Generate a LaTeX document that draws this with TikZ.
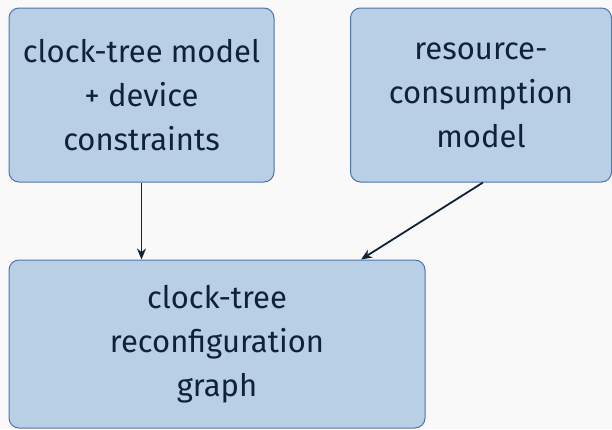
\documentclass[tikz,border=0pt]{standalone}
\usepackage{fontspec}
\setmainfont{Fira Sans}
\usetikzlibrary{arrows.meta}
\definecolor{bgc}{HTML}{F9F9F9}
\definecolor{boxfill}{HTML}{B8CFE6}
\definecolor{boxline}{HTML}{4F74A8}
\definecolor{txt}{HTML}{0F2238}
\tikzset{
  box/.style={draw=boxline, fill=boxfill, line width=1pt, rounded corners=10pt,
    align=center, text=txt, inner sep=0pt,
    font=\fontsize{31}{44}\selectfont},
  conn/.style={draw=txt, line width=1.8pt, -{Stealth[length=11pt,width=9pt]}}
}
\begin{document}
\begin{tikzpicture}[x=1pt,y=-1pt]
\fill[bgc] (0,0) rectangle (612,429);
\useasboundingbox (0,0) rectangle (612,429);
\node[box, minimum width=265pt, minimum height=174pt] (A) at (141.5,95) {clock-tree model\\+ device\\constraints};
\node[box, minimum width=261pt, minimum height=174pt] (B) at (481,95) {resource-\\consumption\\model};
\node[box, minimum width=416pt, minimum height=168pt] (C) at (217,344) {clock-tree\\reconfiguration\\graph};
\draw[conn] (A.south) -- (A.south |- C.north);
\draw[conn] ([xshift=2pt]B.south) -- ([xshift=144pt]C.north);
\end{tikzpicture}
\end{document}
